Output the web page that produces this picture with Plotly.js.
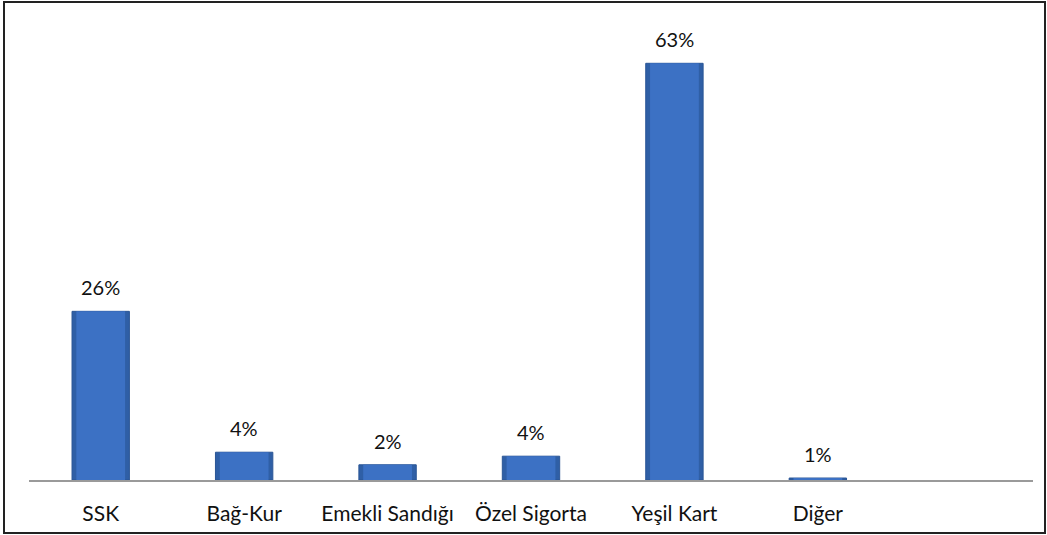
<!DOCTYPE html>
<html>
<head>
<meta charset="utf-8">
<script src="https://cdn.plot.ly/plotly-3.0.1.min.js"></script>
<style>
html,body{margin:0;padding:0;background:#fff;}
#chart{width:1047px;height:535px;}
</style>
</head>
<body>
<div id="chart"></div>
<script>
const categories = ["SSK", "Bağ-Kur", "Emekli Sandığı", "Özel Sigorta", "Yeşil Kart", "Diğer", " "];
const values = [25.5, 4.2, 2.3, 3.6, 63, 0.3, null];
const valueLabels = ["26%", "4%", "2%", "4%", "63%", "1%", ""];

const W = 1047, H = 535;
const m = {l: 29, r: 14, t: 17, b: 55};
const pw = W - m.l - m.r, ph = H - m.t - m.b;
const font = "Lato, 'Open Sans', sans-serif";

const trace = {
  type: "bar",
  x: categories,
  y: values,
  width: 0.4,
  marker: {color: "#2F5FA6", line: {color: "#2A5595", width: 1}},
  hoverinfo: "skip"
};
// inner face to hint at the bevel
const face = {
  type: "bar",
  x: categories,
  y: values,
  width: 0.34,
  marker: {color: "#3C71C4", line: {width: 0}},
  hoverinfo: "skip"
};

const annotations = categories.map((c, i) => values[i] == null ? null : ({
  x: c, y: values[i], xref: "x", yref: "y",
  text: valueLabels[i], showarrow: false,
  yanchor: "bottom", yshift: 10,
  font: {family: font, size: 20, color: "#111"}
})).filter(a => a);

const px = v => (v - m.l) / pw, py = v => 1 - (v - m.t) / ph;

const layout = {
  width: W, height: H,
  margin: m,
  paper_bgcolor: "#fff", plot_bgcolor: "#fff",
  showlegend: false,
  barmode: "overlay",
  xaxis: {
    type: "category",
    showline: true, linecolor: "#9a9a9a", linewidth: 1.5,
    ticks: "", showgrid: false, zeroline: false,
    tickfont: {family: font, size: 21, color: "#111"},
    ticklabelstandoff: 14,
    fixedrange: true
  },
  yaxis: {
    range: [0, 70], visible: false, showgrid: false, zeroline: false, fixedrange: true
  },
  annotations: annotations,
  shapes: [{
    type: "rect", xref: "paper", yref: "paper",
    x0: px(4), x1: px(1045), y0: py(533), y1: py(2),
    line: {color: "#222", width: 2}, fillcolor: "rgba(0,0,0,0)", layer: "above"
  }]
};

Plotly.newPlot("chart", [trace, face], layout, {displayModeBar: false, staticPlot: true});
</script>
</body>
</html>
